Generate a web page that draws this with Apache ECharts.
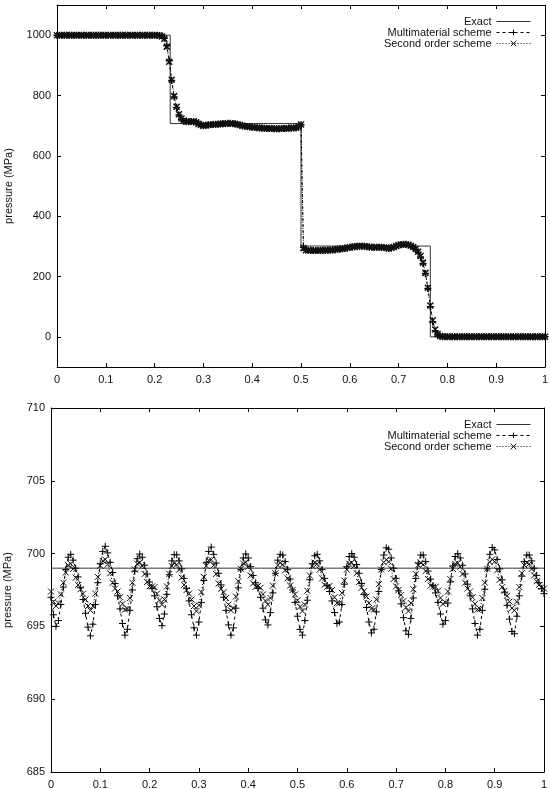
<!DOCTYPE html>
<html>
<head>
<meta charset="utf-8">
<script src="https://cdn.jsdelivr.net/npm/echarts@6/dist/echarts.min.js"></script>
<style>
html, body { margin: 0; padding: 0; background: #fff; }
#chart { width: 550px; height: 789px; }
</style>
</head>
<body>
<div id="chart"></div>
<script>
// cell positions, same for both panels
const xs = [
  0, 0.005, 0.01, 0.015, 0.02, 0.025, 0.03, 0.035, 0.04, 0.045,
  0.05, 0.055, 0.06, 0.065, 0.07, 0.075, 0.08, 0.085, 0.09, 0.095,
  0.1, 0.105, 0.11, 0.115, 0.12, 0.125, 0.13, 0.135, 0.14, 0.145,
  0.15, 0.155, 0.16, 0.165, 0.17, 0.175, 0.18, 0.185, 0.19, 0.195,
  0.2, 0.205, 0.21, 0.215, 0.22, 0.225, 0.23, 0.235, 0.24, 0.245,
  0.25, 0.255, 0.26, 0.265, 0.27, 0.275, 0.28, 0.285, 0.29, 0.295,
  0.3, 0.305, 0.31, 0.315, 0.32, 0.325, 0.33, 0.335, 0.34, 0.345,
  0.35, 0.355, 0.36, 0.365, 0.37, 0.375, 0.38, 0.385, 0.39, 0.395,
  0.4, 0.405, 0.41, 0.415, 0.42, 0.425, 0.43, 0.435, 0.44, 0.445,
  0.45, 0.455, 0.46, 0.465, 0.47, 0.475, 0.48, 0.485, 0.49, 0.495,
  0.5, 0.505, 0.51, 0.515, 0.52, 0.525, 0.53, 0.535, 0.54, 0.545,
  0.55, 0.555, 0.56, 0.565, 0.57, 0.575, 0.58, 0.585, 0.59, 0.595,
  0.6, 0.605, 0.61, 0.615, 0.62, 0.625, 0.63, 0.635, 0.64, 0.645,
  0.65, 0.655, 0.66, 0.665, 0.67, 0.675, 0.68, 0.685, 0.69, 0.695,
  0.7, 0.705, 0.71, 0.715, 0.72, 0.725, 0.73, 0.735, 0.74, 0.745,
  0.75, 0.755, 0.76, 0.765, 0.77, 0.775, 0.78, 0.785, 0.79, 0.795,
  0.8, 0.805, 0.81, 0.815, 0.82, 0.825, 0.83, 0.835, 0.84, 0.845,
  0.85, 0.855, 0.86, 0.865, 0.87, 0.875, 0.88, 0.885, 0.89, 0.895,
  0.9, 0.905, 0.91, 0.915, 0.92, 0.925, 0.93, 0.935, 0.94, 0.945,
  0.95, 0.955, 0.96, 0.965, 0.97, 0.975, 0.98, 0.985, 0.99, 0.995,
  1
];

// top panel: pressure (MPa)
const topMulti = [
  1000, 1000, 1000, 1000, 1000, 1000, 1000, 1000, 1000, 1000,
  1000, 1000, 1000, 1000, 1000, 1000, 1000, 1000, 1000, 1000,
  1000, 1000, 1000, 1000, 1000, 1000, 1000, 1000, 1000, 1000,
  1000, 1000, 1000, 1000, 1000, 1000, 1000, 1000, 1000, 1000,
  1000, 1000, 999, 997, 990, 965, 915, 850, 795, 760,
  735, 721, 715, 713, 713, 714, 714, 712, 707, 702,
  700, 701, 703, 704, 704, 705, 705, 706, 706, 707,
  708, 708, 707, 706, 704, 702, 700, 698, 697, 696,
  695, 694, 693, 692, 692, 691, 691, 691, 691, 690,
  690, 690, 691, 691, 691, 692, 692, 692, 693, 695,
  703, 296, 288, 287, 287, 286, 286, 286, 286, 287,
  287, 287, 288, 288, 289, 290, 291, 292, 294, 295,
  297, 298, 299, 300, 300, 300, 300, 299, 298, 297,
  297, 297, 297, 297, 296, 294, 293, 294, 297, 301,
  304, 306, 307, 307, 305, 302, 297, 290, 280, 265,
  243, 210, 160, 100, 50, 20, 7, 2, 0.5, 0,
  0, 0, 0, 0, 0, 0, 0, 0, 0, 0,
  0, 0, 0, 0, 0, 0, 0, 0, 0, 0,
  0, 0, 0, 0, 0, 0, 0, 0, 0, 0,
  0, 0, 0, 0, 0, 0, 0, 0, 0, 0,
  0
];
const topSecond = [
  1000, 1000, 1000, 1000, 1000, 1000, 1000, 1000, 1000, 1000,
  1000, 1000, 1000, 1000, 1000, 1000, 1000, 1000, 1000, 1000,
  1000, 1000, 1000, 1000, 1000, 1000, 1000, 1000, 1000, 1000,
  1000, 1000, 1000, 1000, 1000, 1000, 1000, 1000, 1000, 1000,
  1000, 1000, 999, 996, 988, 962, 912, 852, 798, 763,
  738, 724, 717, 714, 713, 714, 714, 711, 706, 702,
  700, 701, 702, 703, 704, 705, 705, 706, 706, 707,
  707, 707, 707, 706, 704, 702, 700, 698, 697, 696,
  695, 694, 693, 692, 692, 691, 691, 691, 690, 690,
  690, 690, 690, 691, 691, 691, 692, 692, 693, 697,
  704, 294, 287, 287, 286, 286, 286, 286, 286, 287,
  287, 287, 288, 288, 289, 290, 291, 292, 293, 295,
  296, 298, 299, 300, 301, 301, 300, 299, 298, 297,
  297, 297, 297, 297, 296, 295, 294, 295, 298, 301,
  304, 306, 306, 306, 305, 302, 298, 291, 282, 268,
  246, 212, 163, 104, 55, 24, 9, 3, 1, 0,
  0, 0, 0, 0, 0, 0, 0, 0, 0, 0,
  0, 0, 0, 0, 0, 0, 0, 0, 0, 0,
  0, 0, 0, 0, 0, 0, 0, 0, 0, 0,
  0, 0, 0, 0, 0, 0, 0, 0, 0, 0,
  0
];
const topExactX = [0, 0.232, 0.232, 0.5, 0.5, 0.765, 0.765, 1];
const topExactY = [1000, 1000, 707, 707, 301, 301, 0, 0];

// bottom panel: pressure (MPa)
const botMulti = [
  697.0, 695.8, 695.0, 695.4, 696.5, 697.7, 698.9, 699.75, 699.95, 699.55,
  699.0, 698.4, 697.65, 696.85, 695.9, 694.95, 694.35, 695.15, 696.5, 698.0,
  699.3, 700.15, 700.5, 700.05, 699.4, 698.7, 697.95, 697.1, 696.2, 695.2,
  694.4, 694.8, 696.1, 697.5, 698.8, 699.65, 699.97, 699.75, 699.2, 698.6,
  698.05, 697.6, 697.1, 696.35, 695.55, 695.05, 695.85, 697.2, 698.55, 699.5,
  699.93, 699.92, 699.5, 698.95, 698.3, 697.6, 696.75, 695.8, 694.9, 694.4,
  695.3, 696.65, 698.15, 699.4, 700.15, 700.45, 699.95, 699.35, 698.65, 697.85,
  697.0, 696.1, 695.1, 694.4, 694.9, 696.25, 697.65, 698.9, 699.7, 699.98,
  699.7, 699.1, 698.5, 698.0, 697.6, 697.0, 696.25, 695.45, 695.1, 695.95,
  697.3, 698.65, 699.55, 699.95, 699.9, 699.45, 698.9, 698.25, 697.5, 696.65,
  695.7, 694.8, 694.4, 695.4, 696.8, 698.2, 699.3, 699.85, 699.95, 699.5,
  698.9, 698.3, 697.8, 697.4, 696.75, 695.95, 695.2, 695.3, 696.5, 697.9,
  699.1, 699.8, 700.0, 699.75, 699.25, 698.65, 697.95, 697.2, 696.3, 695.3,
  694.55, 694.8, 696.0, 697.4, 698.9, 699.9, 700.4, 700.3, 699.7, 699.0,
  698.3, 697.45, 696.55, 695.6, 694.7, 694.45, 695.55, 696.95, 698.3, 699.35,
  699.9, 699.9, 699.45, 698.8, 698.25, 697.8, 697.3, 696.65, 695.85, 695.15,
  695.4, 696.6, 698.05, 699.15, 699.8, 700.0, 699.7, 699.2, 698.6, 697.9,
  697.1, 696.2, 695.2, 694.4, 694.8, 696.1, 697.55, 698.95, 699.95, 700.42,
  700.25, 699.6, 698.95, 698.2, 697.35, 696.45, 695.5, 694.65, 694.5, 695.7,
  697.1, 698.45, 699.45, 699.9, 699.9, 699.5, 699.0, 698.5, 698.0, 697.6,
  697.25
];
const botSecond = [
  697.4, 696.7, 696.4, 696.6, 697.2, 698.0, 698.7, 699.2, 699.3, 698.95,
  698.35, 697.85, 697.55, 697.25, 696.85, 696.4, 696.1, 696.4, 697.25, 698.4,
  699.17, 699.5, 699.6, 699.25, 698.65, 698.0, 697.6, 697.4, 697.0, 696.55,
  696.15, 696.2, 696.95, 698.0, 698.9, 699.3, 699.4, 699.15, 698.6, 698.05,
  697.75, 697.75, 697.7, 697.25, 696.8, 696.5, 696.85, 697.75, 698.6, 699.15,
  699.35, 699.25, 698.9, 698.35, 697.85, 697.5, 697.25, 696.85, 696.4, 696.05,
  696.45, 697.35, 698.4, 699.16, 699.54, 699.58, 699.2, 698.6, 697.95, 697.58,
  697.35, 696.95, 696.5, 696.1, 696.25, 697.05, 698.1, 698.95, 699.32, 699.4,
  699.1, 698.5, 697.95, 697.72, 697.78, 697.65, 697.2, 696.75, 696.5, 696.95,
  697.8, 698.65, 699.2, 699.36, 699.25, 698.85, 698.3, 697.8, 697.5, 697.2,
  696.8, 696.35, 696.05, 696.5, 697.45, 698.5, 699.15, 699.38, 699.3, 698.9,
  698.3, 697.85, 697.72, 697.78, 697.5, 697.0, 696.6, 696.6, 697.3, 698.15,
  698.9, 699.3, 699.38, 699.15, 698.65, 698.05, 697.65, 697.42, 697.05, 696.6,
  696.2, 696.15, 696.85, 697.9, 698.9, 699.4, 699.58, 699.45, 698.95, 698.25,
  697.75, 697.5, 697.15, 696.75, 696.3, 696.05, 696.6, 697.55, 698.6, 699.2,
  699.38, 699.25, 698.8, 698.25, 697.8, 697.73, 697.72, 697.45, 696.95, 696.55,
  696.65, 697.4, 698.25, 698.95, 699.3, 699.35, 699.1, 698.6, 698.0, 697.6,
  697.4, 697.0, 696.55, 696.15, 696.2, 696.95, 698.0, 698.95, 699.42, 699.6,
  699.45, 698.85, 698.2, 697.7, 697.45, 697.1, 696.7, 696.25, 696.1, 696.7,
  697.7, 698.65, 699.2, 699.38, 699.3, 698.95, 698.5, 698.1, 697.85, 697.7,
  697.6
];
const botExactX = [0, 1];
const botExactY = [699, 699];

// tick labels
const xTicks = [0, 0.1, 0.2, 0.3, 0.4, 0.5, 0.6, 0.7, 0.8, 0.9, 1];
const topYTicks = [0, 200, 400, 600, 800, 1000];
const botYTicks = [685, 690, 695, 700, 705, 710];

const names = ['Exact', 'Multimaterial scheme', 'Second order scheme'];

const font = '"Liberation Sans", Arial, Helvetica, sans-serif';
const plus = 'path://M5,0L5,10M0,5L10,5';
const cross = 'path://M0,0L10,10M10,0L0,10';

function pair(x, y) {
    return x.map((v, i) => [v, y[i]]);
}

function xAxisFor(gridIndex, position) {
    return {
        type: 'value', gridIndex: gridIndex, position: position, min: 0, max: 1,
        axisLine: { show: true, onZero: false, lineStyle: { color: '#000', width: 1 } },
        axisTick: { show: true, inside: true, length: 4, customValues: xTicks, lineStyle: { color: '#000' } },
        axisLabel: {
            show: position === 'bottom', customValues: xTicks, margin: 7,
            fontSize: 11, color: '#111', fontFamily: font, formatter: v => String(v)
        },
        splitLine: { show: false }
    };
}

function yAxisFor(gridIndex, position, min, max, ticks, gap) {
    return {
        type: 'value', gridIndex: gridIndex, position: position, min: min, max: max,
        name: position === 'left' ? 'pressure (MPa)' : '',
        nameLocation: 'middle', nameGap: gap,
        nameTextStyle: { fontSize: 11, color: '#111', fontFamily: font },
        axisLine: { show: true, onZero: false, lineStyle: { color: '#000', width: 1 } },
        axisTick: { show: true, inside: true, length: 4, customValues: ticks, lineStyle: { color: '#000' } },
        axisLabel: {
            show: position === 'left', customValues: ticks, margin: 6,
            fontSize: 11, color: '#111', fontFamily: font, formatter: v => String(v)
        },
        splitLine: { show: false }
    };
}

function panelSeries(axis, exact, multi, second, size, stroke) {
    return [{
        name: names[0], type: 'line', xAxisIndex: axis, yAxisIndex: axis,
        data: exact, symbol: 'none', z: 3,
        lineStyle: { color: '#333', width: 1 }, itemStyle: { color: '#333' }
    }, {
        name: names[1], type: 'line', xAxisIndex: axis, yAxisIndex: axis,
        data: multi, symbol: plus, symbolSize: size,
        lineStyle: { color: '#000', width: 1, type: [3, 3] },
        itemStyle: { color: '#000', borderColor: '#000', borderWidth: stroke }
    }, {
        name: names[2], type: 'line', xAxisIndex: axis, yAxisIndex: axis,
        data: second, symbol: cross, symbolSize: size - 1,
        lineStyle: { color: '#000', width: 1, type: [1, 2] },
        itemStyle: { color: '#111', borderColor: '#111', borderWidth: stroke }
    }];
}

function legendAt(top) {
    return {
        data: [{ name: names[0], itemStyle: { opacity: 0 } }, names[1], names[2]],
        orient: 'vertical', align: 'right', right: 14, top: top,
        itemWidth: 34, itemHeight: 7, itemGap: 0, selectedMode: false,
        lineStyle: { width: 1 },
        itemStyle: { borderWidth: 1 },
        textStyle: { fontSize: 11, color: '#111', fontFamily: font, lineHeight: 10.5 }
    };
}

const chart = echarts.init(document.getElementById('chart'));
chart.setOption({
    animation: false,
    backgroundColor: '#fff',
    grid: [
        { left: 57, right: 5, top: 5, height: 362, outerBoundsMode: 'none' },
        { left: 51, right: 6, top: 408, height: 364, outerBoundsMode: 'none' }
    ],
    legend: [legendAt(11), legendAt(414)],
    xAxis: [
        xAxisFor(0, 'bottom'), xAxisFor(1, 'bottom'),
        xAxisFor(0, 'top'), xAxisFor(1, 'top')
    ],
    yAxis: [
        yAxisFor(0, 'left', -100, 1100, topYTicks, 43),
        yAxisFor(1, 'left', 685, 710, botYTicks, 38),
        yAxisFor(0, 'right', -100, 1100, topYTicks, 0),
        yAxisFor(1, 'right', 685, 710, botYTicks, 0)
    ],
    series: [].concat(
        panelSeries(0, pair(topExactX, topExactY), pair(xs, topMulti), pair(xs, topSecond), 7, 1.5),
        panelSeries(1, pair(botExactX, botExactY), pair(xs, botMulti), pair(xs, botSecond), 7, 1)
    )
});
</script>
</body>
</html>
